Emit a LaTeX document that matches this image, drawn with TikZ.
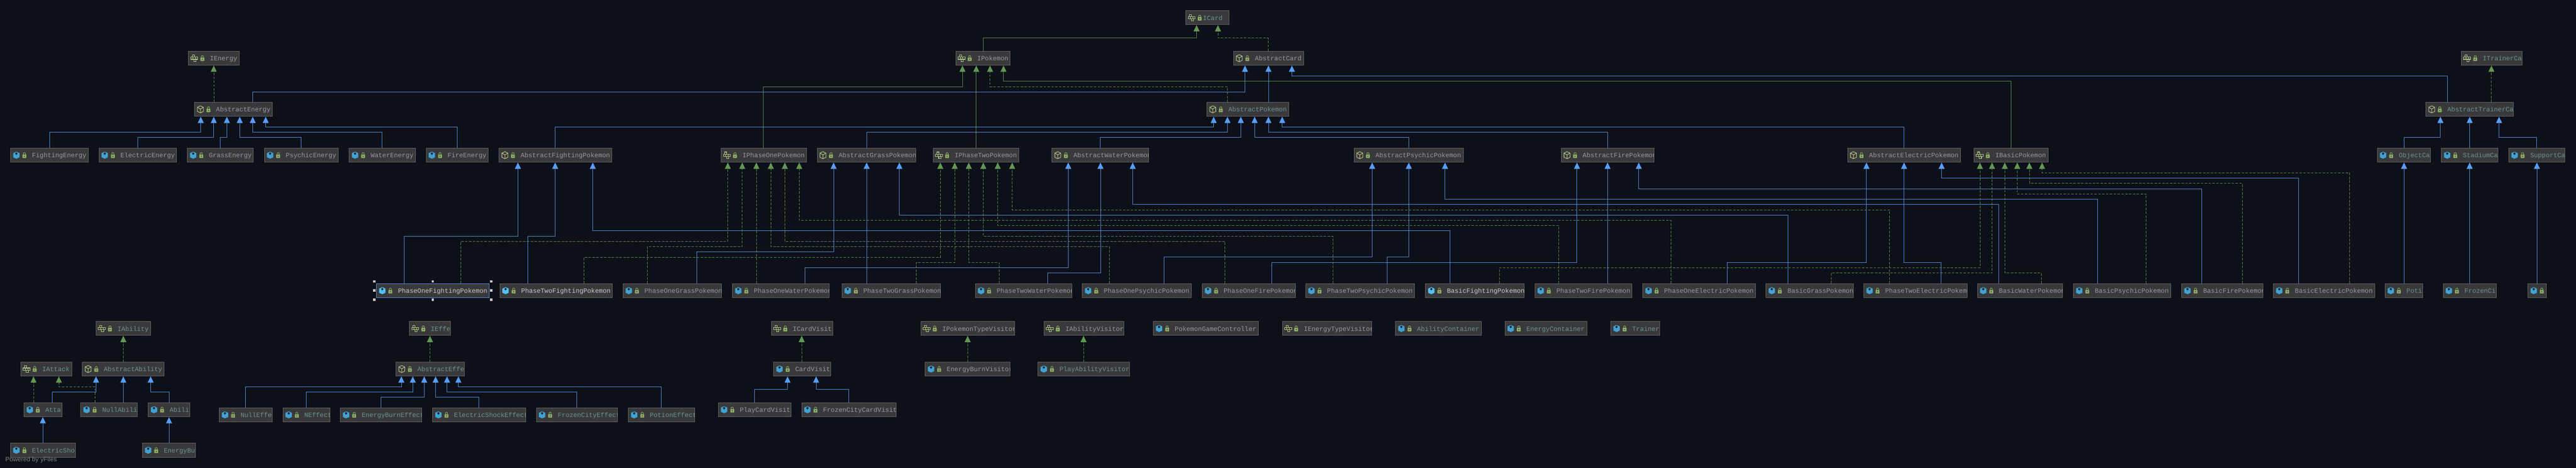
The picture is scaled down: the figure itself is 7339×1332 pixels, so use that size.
\documentclass[tikz,border=0pt]{standalone}
\usepackage{fontspec}
\setmonofont{Liberation Mono}
\setsansfont{Liberation Sans}
\usetikzlibrary{arrows.meta,calc}

\definecolor{pagebg}{HTML}{0D1018}
\definecolor{boxbg}{HTML}{39393B}
\definecolor{boxline}{HTML}{636365}
\definecolor{txtgray}{HTML}{96999C}
\definecolor{txtteal}{HTML}{6A958C}
\definecolor{txtbright}{HTML}{C9CBCC}
\definecolor{extblue}{HTML}{4F8FDC}
\definecolor{tipblue}{HTML}{589DF6}
\definecolor{implgreen}{HTML}{5C8C50}
\definecolor{tipgreen}{HTML}{629755}
\definecolor{iconblue}{HTML}{40A2D4}
\definecolor{iconbright}{HTML}{4FC1F5}
\definecolor{iconline}{HTML}{B4C884}
\definecolor{lockgreen}{HTML}{8CAD65}

\tikzset{
  pics/classicon/.style={code={
    \fill[iconblue] (-9,-6) -- (0,-10) -- (9,-6) -- (9,6) -- (0,10) -- (-9,6) -- cycle;
    \fill[boxbg!60!black] (0,-8.5) -- (3.5,-4.5) -- (0,-0.5) -- (-3.5,-4.5) -- cycle;
  }},
  pics/brighticon/.style={code={
    \fill[iconbright] (-9,-6) -- (0,-10) -- (9,-6) -- (9,6) -- (0,10) -- (-9,6) -- cycle;
    \fill[boxbg!60!black] (0,-8.5) -- (3.5,-4.5) -- (0,-0.5) -- (-3.5,-4.5) -- cycle;
  }},
  pics/absicon/.style={code={
    \draw[iconline,line width=1.5pt] (-8.5,-6) -- (0,-10) -- (8.5,-6) -- (8.5,6) -- (0,10) -- (-8.5,6) -- cycle;
    \draw[iconline,line width=1.5pt] (-8.5,-6) -- (0,-1) -- (8.5,-6) (0,-1) -- (0,10);
  }},
  pics/ifaceicon/.style={code={
    \draw[iconline,line width=1.5pt] (-10,-3) rectangle (10,3) (-3.5,-3) -- (-3.5,3) (3.5,-3) -- (3.5,3);
    \draw[iconline,line width=1.5pt] (-6,-3) -- (-6,-9) -- (0,-9) -- (0,-3) (-1,3) -- (-1,9) -- (5,9) -- (5,3);
  }},
  pics/lockicon/.style={code={
    \draw[lockgreen,line width=1.4pt] (-3,-2) -- (-3,-4.5) arc[start angle=180,end angle=0,x radius=3,y radius=-3] -- (3,-2);
    \fill[lockgreen,rounded corners=1pt] (-5.5,-2) rectangle (5.5,8);
    \fill[boxbg!50!black] (0,3) circle (1.4);
  }}
}

\newcommand{\classnode}[8][61]{%
  \node[classbox,minimum width={(#4-#3)*1pt}] (#2) at ({(#3+#4)/2},{#5+20.15}) {};
  \pic at ({#3+16.5},{#5+20.5}) {#6};
  \pic at ({#3+39.5},{#5+20.5}) {lockicon};
  \begin{scope}
    \clip (#2.south west) rectangle (#2.north east);
    \node[nametext,text=#7] (#2-name) at ({#3+#1},{#5+27.5}) {#8};
  \end{scope}
}
\newcommand{\bentlink}[6]{\draw[#1] (#2.north -| #3,0) -- (#3,#4) -- (#6,#4) -- (#5.south -| #6,0);}
\newcommand{\uplink}[4]{\draw[#1] (#2.north -| #3,0) -- (#4.south -| #3,0);}

\begin{document}
\begin{tikzpicture}[x=1pt, y=-1pt,
    classbox/.style = {draw=boxline, fill=boxbg, line width=1.2pt, inner sep=0pt, outer sep=0pt, minimum height=40.3pt},
    nametext/.style = {anchor=base west, inner sep=0pt, font=\ttfamily\fontsize{18.45}{20}\selectfont},
    extends/.style = {draw=extblue, line width=1.4pt, shorten >=1pt, -{Triangle[length=18pt,width=17pt,color=tipblue]}},
    ifaceextends/.style = {draw=implgreen, line width=1.4pt, shorten >=1pt, -{Triangle[length=18pt,width=17pt,color=tipgreen]}},
    implements/.style = {ifaceextends, line width=1.2pt, dash pattern=on 7pt off 4pt},
    handle/.style = {fill=black!22, inner sep=0pt, minimum size=7pt}]

  \useasboundingbox (0,0) rectangle (7339,1332);
  \fill[pagebg] (-5,-5) rectangle (7345,1338);

  % top of the hierarchy
  \classnode[49]{ICard}{3378.3}{3500.8}{30}{ifaceicon}{txtteal}{ICard}
  \classnode{IEnergy}{537}{682}{145.3}{ifaceicon}{txtgray}{IEnergy}
  \classnode{IPokemon}{2723}{2878}{145.3}{ifaceicon}{txtgray}{IPokemon}
  \classnode{AbstractCard}{3514}{3714}{145.3}{absicon}{txtgray}{AbstractCard}
  \classnode{ITrainerCa}{7012.3}{7184.9}{145.3}{ifaceicon}{txtteal}{ITrainerCa}
  \classnode{AbstractEnergy}{554.5}{775}{291}{absicon}{txtgray}{AbstractEnergy}
  \classnode{AbstractPokemon}{3438.6}{3672}{291}{absicon}{txtteal}{AbstractPokemon}
  \classnode{AbstractTrainerCa}{6911.4}{7161}{291}{absicon}{txtteal}{AbstractTrainerCa}

  % second row
  \classnode{FightingEnergy}{30}{251}{421.5}{classicon}{txtgray}{FightingEnergy}
  \classnode{ElectricEnergy}{282}{503}{421.5}{classicon}{txtgray}{ElectricEnergy}
  \classnode{GrassEnergy}{534}{722}{421.5}{classicon}{txtgray}{GrassEnergy}
  \classnode{PsychicEnergy}{753}{963.5}{421.5}{classicon}{txtgray}{PsychicEnergy}
  \classnode{WaterEnergy}{995}{1183}{421.5}{classicon}{txtgray}{WaterEnergy}
  \classnode{FireEnergy}{1214}{1391}{421.5}{classicon}{txtgray}{FireEnergy}
  \classnode{AbstractFighting}{1422}{1742.5}{421.5}{absicon}{txtgray}{AbstractFightingPokemon}
  \classnode{IPhaseOne}{2054.4}{2297.4}{421.5}{ifaceicon}{txtgray}{IPhaseOnePokemon}
  \classnode{AbstractGrass}{2328}{2609}{421.5}{absicon}{txtgray}{AbstractGrassPokemon}
  \classnode{IPhaseTwo}{2658.8}{2902.7}{421.5}{ifaceicon}{txtgray}{IPhaseTwoPokemon}
  \classnode{AbstractWater}{2997}{3273}{421.5}{absicon}{txtgray}{AbstractWaterPokemon}
  \classnode{AbstractPsychic}{3857.6}{4168.5}{421.5}{absicon}{txtgray}{AbstractPsychicPokemon}
  \classnode{AbstractFire}{4447.8}{4712.8}{421.5}{absicon}{txtgray}{AbstractFirePokemon}
  \classnode{AbstractElectric}{5263.9}{5585.3}{421.5}{absicon}{txtgray}{AbstractElectricPokemon}
  \classnode{IBasic}{5623.6}{5835}{421.5}{ifaceicon}{txtgray}{IBasicPokemon}
  \classnode{ObjectCa}{6772.8}{6924.2}{421.5}{classicon}{txtteal}{ObjectCa}
  \classnode{StadiumCa}{6955.4}{7116}{421.5}{classicon}{txtteal}{StadiumCa}
  \classnode{SupportCa}{7147.2}{7307.8}{421.5}{classicon}{txtteal}{SupportCa}

  % concrete pokemon
  \classnode{PhaseOneFighting}{1072.7}{1393.2}{807.3}{brighticon}{txtbright}{PhaseOneFightingPokemon}
  \classnode{PhaseTwoFighting}{1423.8}{1744.3}{807.3}{brighticon}{txtbright}{PhaseTwoFightingPokemon}
  \classnode{PhaseOneGrass}{1774.9}{2056}{807.3}{classicon}{txtgray}{PhaseOneGrassPokemon}
  \classnode{PhaseOneWater}{2086.8}{2362.3}{807.3}{classicon}{txtgray}{PhaseOneWaterPokemon}
  \classnode{PhaseTwoGrass}{2398.6}{2680}{807.3}{classicon}{txtgray}{PhaseTwoGrassPokemon}
  \classnode{PhaseTwoWater}{2778.4}{3053.9}{807.3}{classicon}{txtgray}{PhaseTwoWaterPokemon}
  \classnode{PhaseOnePsychic}{3083.6}{3394.5}{807.3}{classicon}{txtgray}{PhaseOnePsychicPokemon}
  \classnode{PhaseOneFire}{3425}{3690}{807.3}{classicon}{txtgray}{PhaseOneFirePokemon}
  \classnode{PhaseTwoPsychic}{3719.8}{4029.7}{807.3}{classicon}{txtgray}{PhaseTwoPsychicPokemon}
  \classnode{BasicFighting}{4061.2}{4342.5}{807.3}{brighticon}{txtbright}{BasicFightingPokemon}
  \classnode{PhaseTwoFire}{4373}{4649.6}{807.3}{classicon}{txtgray}{PhaseTwoFirePokemon}
  \classnode{PhaseOneElectric}{4680}{5000.7}{807.3}{classicon}{txtgray}{PhaseOneElectricPokemon}
  \classnode{BasicGrass}{5031.3}{5280}{807.3}{classicon}{txtgray}{BasicGrassPokemon}
  \classnode{PhaseTwoElectric}{5309.7}{5604.4}{807.3}{classicon}{txtgray}{PhaseTwoElectricPokemon}
  \classnode{BasicWater}{5633.7}{5876.5}{807.3}{classicon}{txtgray}{BasicWaterPokemon}
  \classnode{BasicPsychic}{5907}{6183.8}{807.3}{classicon}{txtgray}{BasicPsychicPokemon}
  \classnode{BasicFire}{6215.5}{6446.5}{807.3}{classicon}{txtgray}{BasicFirePokemon}
  \classnode{BasicElectric}{6477}{6765.5}{807.3}{classicon}{txtgray}{BasicElectricPokemon}
  \classnode{Poti}{6794.8}{6902.7}{807.3}{classicon}{txtteal}{Poti}
  \classnode{FrozenCi}{6960.2}{7111.5}{807.3}{classicon}{txtteal}{FrozenCi}
  \classnode{LastCard}{7201.9}{7254.6}{807.3}{classicon}{txtteal}{}

  % abilities and effects
  \classnode{IAbility}{273.6}{429.2}{915}{ifaceicon}{txtteal}{IAbility}
  \classnode{IEffe}{1166.5}{1284}{915}{ifaceicon}{txtteal}{IEffe}
  \classnode{ICardVisit}{2197.7}{2371.8}{915}{ifaceicon}{txtgray}{ICardVisit}
  \classnode{IPokemonTypeVisitor}{2623.5}{2890}{915}{ifaceicon}{txtgray}{IPokemonTypeVisitor}
  \classnode{IAbilityVisitor}{2974.2}{3201.6}{915}{ifaceicon}{txtgray}{IAbilityVisitor}
  \classnode{PokemonGameController}{3285.7}{3584.6}{915}{classicon}{txtgray}{PokemonGameController}
  \classnode{IEnergyTypeVisitor}{3653.4}{3907.4}{915}{ifaceicon}{txtgray}{IEnergyTypeVisitor}
  \classnode{AbilityContainer}{3976}{4220}{915}{classicon}{txtteal}{AbilityContainer}
  \classnode{EnergyContainer}{4287.5}{4522}{915}{classicon}{txtteal}{EnergyContainer}
  \classnode{Trainer}{4589}{4728}{915}{classicon}{txtteal}{Trainer}
  \classnode{IAttack}{59.3}{204}{1030.5}{ifaceicon}{txtteal}{IAttack}
  \classnode{AbstractAbility}{234.7}{468}{1030.5}{absicon}{txtteal}{AbstractAbility}
  \classnode{AbstractEffe}{1128.2}{1323.3}{1030.5}{absicon}{txtteal}{AbstractEffe}
  \classnode{CardVisit}{2204.4}{2366}{1030.5}{classicon}{txtgray}{CardVisit}
  \classnode{EnergyBurnVisitor}{2636}{2877.4}{1030.5}{classicon}{txtgray}{EnergyBurnVisitor}
  \classnode{PlayAbilityVisitor}{2957.4}{3218.4}{1030.5}{classicon}{txtteal}{PlayAbilityVisitor}
  \classnode{Atta}{68.2}{176}{1146.3}{classicon}{txtteal}{Atta}
  \classnode{NullAbili}{230.2}{391.6}{1146.3}{classicon}{txtteal}{NullAbili}
  \classnode{Abili}{422.2}{540.2}{1146.3}{classicon}{txtteal}{Abili}
  \classnode{PlayCardVisit}{2046.6}{2253.2}{1146.3}{classicon}{txtgray}{PlayCardVisit}
  \classnode{FrozenCityCardVisit}{2283.8}{2553.7}{1146.3}{classicon}{txtgray}{FrozenCityCardVisit}
  \classnode{NullEffe}{624.4}{776}{1161}{classicon}{txtteal}{NullEffe}
  \classnode{NEffect}{806}{939.4}{1161}{classicon}{txtteal}{NEffect}
  \classnode{EnergyBurnEffect}{969.4}{1200.9}{1161}{classicon}{txtteal}{EnergyBurnEffect}
  \classnode{ElectricShockEffect}{1232.5}{1497.5}{1161}{classicon}{txtteal}{ElectricShockEffect}
  \classnode{FrozenCityEffect}{1528}{1759.6}{1161}{classicon}{txtteal}{FrozenCityEffect}
  \classnode{PotionEffect}{1790.2}{1978.7}{1161}{classicon}{txtteal}{PotionEffect}
  \classnode{ElectricSho}{30}{214.3}{1261.7}{classicon}{txtteal}{ElectricSho}
  \classnode{EnergyBu}{405.6}{556.8}{1261.7}{classicon}{txtteal}{EnergyBu}

  \node[anchor=base west, inner sep=0pt, text=boxline!80, font=\sffamily\fontsize{18}{20}\selectfont] (yfiles) at (15,1315) {Powered by yFiles};

  % energy
  \uplink{implements}{AbstractEnergy}{609}{IEnergy}
  \bentlink{extends}{FightingEnergy}{141}{376.3}{AbstractEnergy}{572}
  \bentlink{extends}{ElectricEnergy}{393}{391}{AbstractEnergy}{609}
  \bentlink{extends}{GrassEnergy}{628}{391}{AbstractEnergy}{646.4}
  \bentlink{extends}{PsychicEnergy}{858}{391}{AbstractEnergy}{683}
  \bentlink{extends}{WaterEnergy}{1089}{376.3}{AbstractEnergy}{720}
  \bentlink{extends}{FireEnergy}{1302}{361.3}{AbstractEnergy}{757}

  % cards
  \bentlink{ifaceextends}{IPokemon}{2800.5}{108.3}{ICard}{3409}
  \bentlink{implements}{AbstractCard}{3612.7}{108.3}{ICard}{3470}
  \bentlink{extends}{AbstractEnergy}{720}{261.3}{AbstractCard}{3547}
  \uplink{extends}{AbstractPokemon}{3613.7}{AbstractCard}
  \bentlink{extends}{AbstractTrainerCa}{6972.9}{216.3}{AbstractCard}{3680.6}
  \bentlink{implements}{AbstractPokemon}{3497}{246.7}{IPokemon}{2820.6}
  \bentlink{ifaceextends}{IBasic}{5728.8}{231.5}{IPokemon}{2859}
  \bentlink{ifaceextends}{IPhaseOne}{2175}{246.7}{IPokemon}{2742}
  \uplink{ifaceextends}{IPhaseTwo}{2781.4}{IPokemon}

  % pokemon types
  \bentlink{extends}{AbstractFighting}{1581.8}{361.3}{AbstractPokemon}{3457.7}
  \bentlink{extends}{AbstractGrass}{2469.6}{376.3}{AbstractPokemon}{3497}
  \bentlink{extends}{AbstractWater}{3135}{391.3}{AbstractPokemon}{3535}
  \bentlink{extends}{AbstractPsychic}{4013.6}{391.3}{AbstractPokemon}{3574.4}
  \bentlink{extends}{AbstractFire}{4579.9}{376.3}{AbstractPokemon}{3613.7}
  \bentlink{extends}{AbstractElectric}{5424.6}{361.3}{AbstractPokemon}{3653}

  % trainer cards
  \uplink{implements}{AbstractTrainerCa}{7098}{ITrainerCa}
  \bentlink{extends}{ObjectCa}{6849}{391}{AbstractTrainerCa}{6952.7}
  \uplink{extends}{StadiumCa}{7036.2}{AbstractTrainerCa}
  \bentlink{extends}{SupportCa}{7227}{391}{AbstractTrainerCa}{7119.7}
  \uplink{extends}{Poti}{6849}{ObjectCa}
  \uplink{extends}{FrozenCi}{7036}{StadiumCa}
  \uplink{extends}{LastCard}{7227.5}{SupportCa}

  % concrete pokemon links
  \bentlink{extends}{PhaseOneFighting}{1152}{672.3}{AbstractFighting}{1475.5}
  \bentlink{implements}{PhaseOneFighting}{1312.8}{687.3}{IPhaseOne}{2073.5}
  \bentlink{extends}{PhaseTwoFighting}{1503.2}{672.3}{AbstractFighting}{1581.7}
  \bentlink{implements}{PhaseTwoFighting}{1663.9}{732.3}{IPhaseTwo}{2678.9}
  \bentlink{extends}{PhaseOneGrass}{1985.4}{717.3}{AbstractGrass}{2374.9}
  \bentlink{implements}{PhaseOneGrass}{1843.8}{702.3}{IPhaseOne}{2114.6}
  \bentlink{extends}{PhaseOneWater}{2293.4}{762.3}{AbstractWater}{3043.4}
  \uplink{implements}{PhaseOneWater}{2154.8}{IPhaseOne}
  \uplink{extends}{PhaseTwoGrass}{2469}{AbstractGrass}
  \bentlink{implements}{PhaseTwoGrass}{2610}{747.3}{IPhaseTwo}{2720}
  \bentlink{extends}{PhaseTwoWater}{2985}{777.3}{AbstractWater}{3135.2}
  \bentlink{implements}{PhaseTwoWater}{2847.3}{747.3}{IPhaseTwo}{2760}
  \bentlink{extends}{PhaseOnePsychic}{3316}{732.3}{AbstractPsychic}{3909.3}
  \bentlink{implements}{PhaseOnePsychic}{3161}{702.3}{IPhaseOne}{2196}
  \bentlink{extends}{PhaseOneFire}{3623}{747.3}{AbstractFire}{4492.8}
  \bentlink{implements}{PhaseOneFire}{3490}{687.3}{IPhaseOne}{2236}
  \bentlink{extends}{PhaseTwoPsychic}{3952.2}{732.3}{AbstractPsychic}{4013.6}
  \bentlink{implements}{PhaseTwoPsychic}{3797.3}{672.3}{IPhaseTwo}{2801.4}
  \bentlink{extends}{BasicFighting}{4131}{657.3}{AbstractFighting}{1688.8}
  \bentlink{implements}{BasicFighting}{4271.7}{762.3}{IBasic}{5640.8}
  \uplink{extends}{PhaseTwoFire}{4579.9}{AbstractFire}
  \bentlink{implements}{PhaseTwoFire}{4441}{642.3}{IPhaseTwo}{2842.5}
  \bentlink{extends}{PhaseOneElectric}{4920.3}{747.3}{AbstractElectric}{5317.4}
  \bentlink{implements}{PhaseOneElectric}{4760.6}{627.3}{IPhaseOne}{2277}
  \bentlink{extends}{BasicGrass}{5093.5}{612.3}{AbstractGrass}{2562.3}
  \bentlink{implements}{BasicGrass}{5216.9}{777.3}{IBasic}{5675.2}
  \bentlink{extends}{PhaseTwoElectric}{5529.3}{747.3}{AbstractElectric}{5424.6}
  \bentlink{implements}{PhaseTwoElectric}{5383.3}{597.3}{IPhaseTwo}{2883.6}
  \bentlink{extends}{BasicWater}{5693.5}{582.3}{AbstractWater}{3227}
  \bentlink{implements}{BasicWater}{5815.5}{777.3}{IBasic}{5711.6}
  \bentlink{extends}{BasicPsychic}{5976.2}{567.3}{AbstractPsychic}{4116.9}
  \bentlink{implements}{BasicPsychic}{6114.6}{552.3}{IBasic}{5747}
  \bentlink{extends}{BasicFire}{6272.9}{537.3}{AbstractFire}{4668.8}
  \bentlink{implements}{BasicFire}{6387.9}{522.3}{IBasic}{5781.5}
  \bentlink{extends}{BasicElectric}{6548.6}{507.3}{AbstractElectric}{5531.7}
  \bentlink{implements}{BasicElectric}{6694}{492.3}{IBasic}{5817.8}

  % abilities
  \uplink{implements}{AbstractAbility}{351.4}{IAbility}
  \uplink{implements}{Atta}{95.5}{IAttack}
  \bentlink{extends}{Atta}{149.2}{1116.3}{AbstractAbility}{273.6}
  \bentlink{implements}{NullAbili}{270.4}{1101.3}{IAttack}{167.7}
  \uplink{extends}{NullAbili}{351.4}{AbstractAbility}
  \bentlink{extends}{Abili}{481.5}{1116.3}{AbstractAbility}{429.2}
  \uplink{extends}{ElectricSho}{122}{Atta}
  \uplink{extends}{EnergyBu}{481.5}{Abili}

  % effects
  \uplink{implements}{AbstractEffe}{1225}{IEffe}
  \bentlink{extends}{NullEffe}{700}{1101.3}{AbstractEffe}{1143.5}
  \bentlink{extends}{NEffect}{872.4}{1116.3}{AbstractEffe}{1176}
  \bentlink{extends}{EnergyBurnEffect}{1085}{1131}{AbstractEffe}{1208.6}
  \bentlink{extends}{ElectricShockEffect}{1364.5}{1131}{AbstractEffe}{1241}
  \bentlink{extends}{FrozenCityEffect}{1642.9}{1116.3}{AbstractEffe}{1273.6}
  \bentlink{extends}{PotionEffect}{1884}{1101.3}{AbstractEffe}{1306}

  % visitors
  \uplink{implements}{CardVisit}{2284}{ICardVisit}
  \bentlink{extends}{PlayCardVisit}{2149}{1108.3}{CardVisit}{2243.7}
  \bentlink{extends}{FrozenCityCardVisit}{2418.7}{1108.3}{CardVisit}{2325}
  \uplink{implements}{EnergyBurnVisitor}{2756.8}{IPokemonTypeVisitor}
  \uplink{implements}{PlayAbilityVisitor}{3087}{IAbilityVisitor}

  % selected node
  \draw[extblue, line width=1.4pt] (PhaseOneFighting.north west) rectangle (PhaseOneFighting.south east);
  \foreach \corner/\dx/\dy [count=\i] in {north west/-6/-6, north/0/-6, north east/6/-6, west/-6/0, east/6/0, south west/-6/6, south/0/6, south east/6/6}
    \node[handle] (handle\i) at ($(PhaseOneFighting.\corner)+(\dx,\dy)$) {};

\end{tikzpicture}
\end{document}
